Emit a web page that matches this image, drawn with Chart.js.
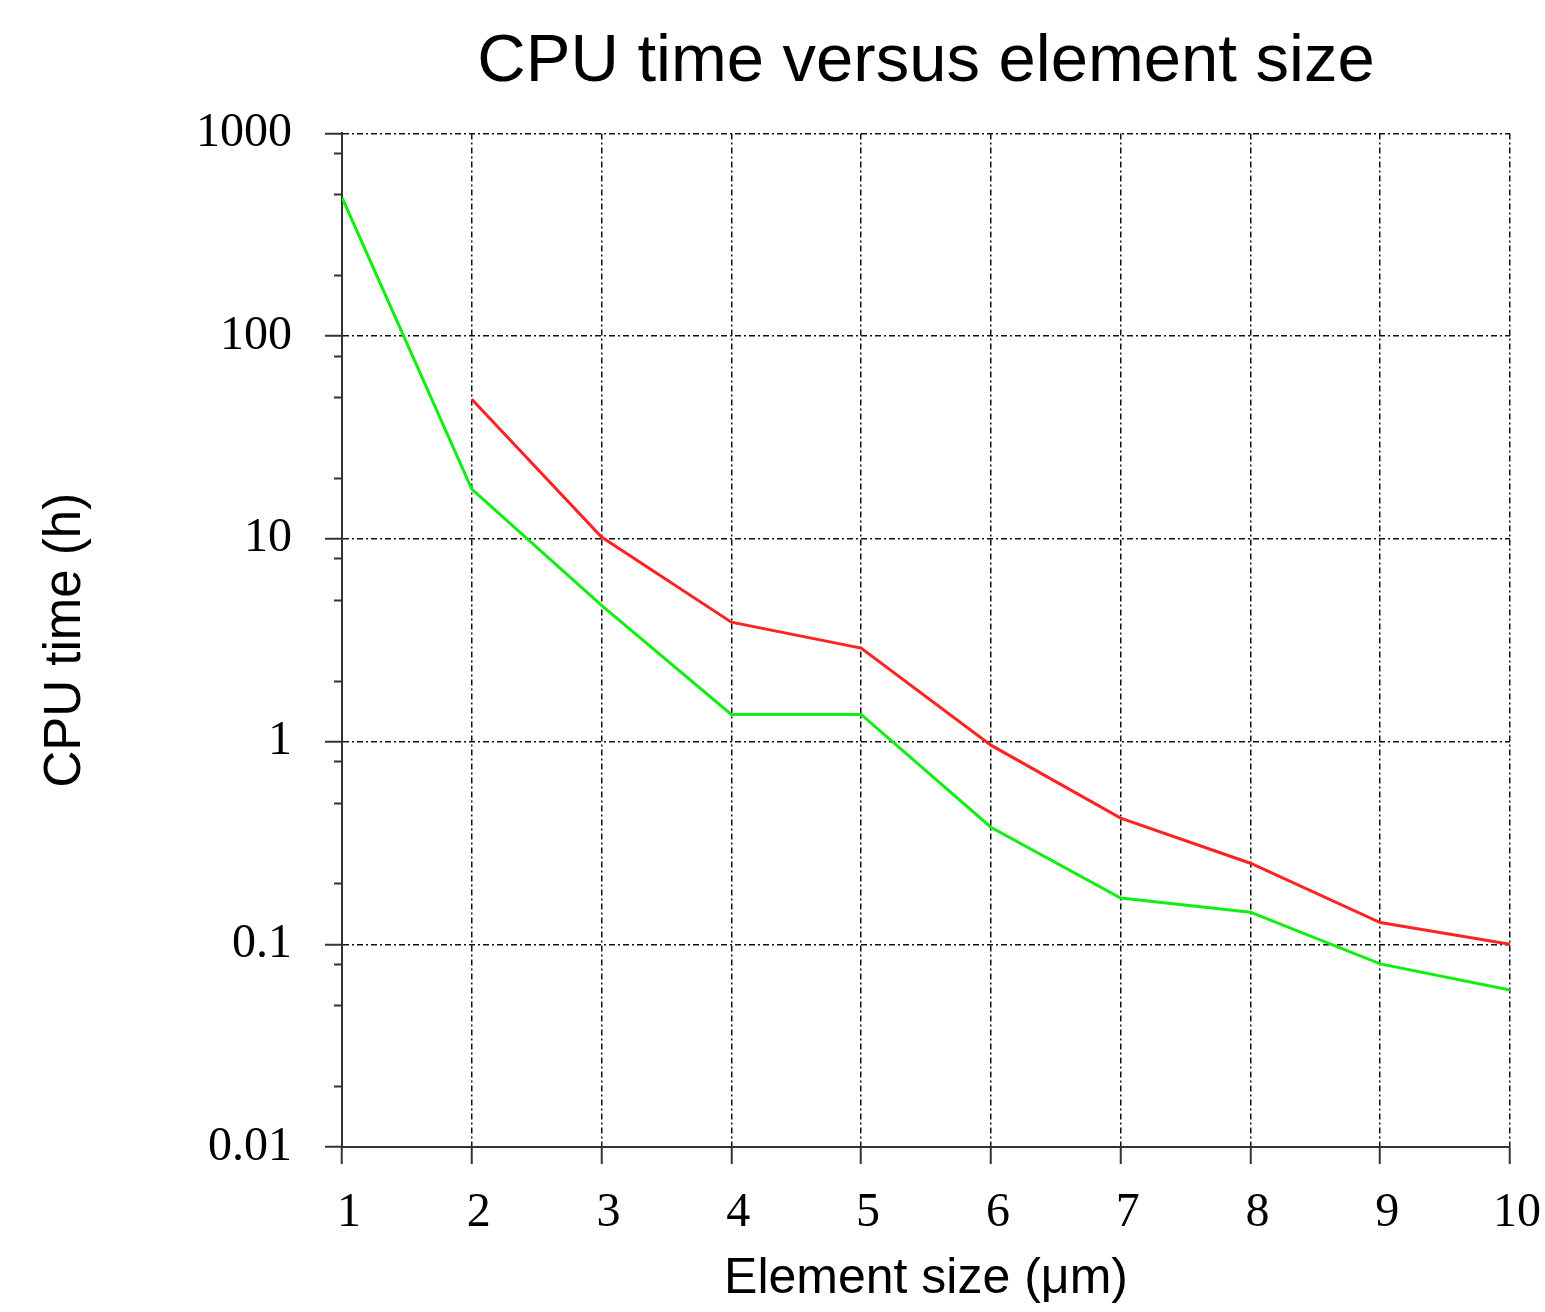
<!DOCTYPE html>
<html lang="en">
<head>
    <meta charset="UTF-8">
    <title>CPU time versus element size</title>
    <script src="https://cdn.jsdelivr.net/npm/chart.js@4.4.1/dist/chart.umd.min.js"></script>
    <style>
        body {
            margin: 0;
            background: #ffffff;
        }
        .chart-box {
            width: 1545px;
            height: 1312px;
            position: relative;
        }
    </style>
</head>
<body>
    <div class="chart-box">
        <canvas id="cpuChart"></canvas>
    </div>

    <script>
        // Data
        const elementSizes = [1, 2, 3, 4, 5, 6, 7, 8, 9, 10];
        const cpuTimeGreen = [483, 17.6, 4.7, 1.36, 1.36, 0.378, 0.169, 0.144, 0.08, 0.0594];
        const cpuTimeRed = [null, 48.8, 10.2, 3.88, 2.89, 0.96, 0.419, 0.251, 0.128, 0.1];
        const yTickValues = [0.01, 0.1, 1, 10, 100, 1000];
        const minorSteps = [2, 5, 8];

        const SERIF = "'Liberation Serif', 'DejaVu Serif', serif";
        const SANS = "'Liberation Sans', Arial, sans-serif";
        const GRID_DASH = [6, 3, 2, 3];

        function toPoints(values) {
            return elementSizes
                .map((x, i) => ({ x: x, y: values[i] }))
                .filter(p => p.y !== null);
        }

        // short ticks at 2, 5, 8 of each decade, outside the left axis
        const minorTicks = {
            id: 'minorTicks',
            afterDraw(chart) {
                const y = chart.scales.y;
                const ctx = chart.ctx;
                ctx.save();
                ctx.strokeStyle = '#333';
                ctx.lineWidth = 2;
                yTickValues.slice(0, -1).forEach(decade => {
                    minorSteps.forEach(m => {
                        const py = Math.round(y.getPixelForValue(decade * m)) + 0.5;
                        ctx.beginPath();
                        ctx.moveTo(y.right - 8, py);
                        ctx.lineTo(y.right, py);
                        ctx.stroke();
                    });
                });
                ctx.restore();
            }
        };

        new Chart(document.getElementById('cpuChart'), {
            type: 'line',
            data: {
                datasets: [
                    {
                        data: toPoints(cpuTimeGreen),
                        borderColor: '#11ee11',
                        borderWidth: 3,
                        pointRadius: 0,
                        tension: 0
                    },
                    {
                        data: toPoints(cpuTimeRed),
                        borderColor: '#ff2222',
                        borderWidth: 3,
                        pointRadius: 0,
                        tension: 0
                    }
                ]
            },
            options: {
                responsive: true,
                maintainAspectRatio: false,
                animation: false,
                layout: {
                    padding: { left: 0, right: 35, top: 0, bottom: 0 }
                },
                plugins: {
                    legend: { display: false },
                    tooltip: { enabled: false },
                    title: {
                        display: true,
                        text: 'CPU time versus element size',
                        fullSize: false,
                        color: '#000',
                        font: { family: SANS, size: 67, weight: 'normal' },
                        padding: { top: 22, bottom: 31 }
                    }
                },
                scales: {
                    x: {
                        type: 'linear',
                        min: 1,
                        max: 10,
                        afterFit(scale) {
                            scale.height = 165;
                            scale.paddingLeft = 0;
                            scale.paddingRight = 0;
                        },
                        ticks: {
                            stepSize: 1,
                            color: '#000',
                            padding: 21,
                            labelOffset: 7,
                            font: { family: SERIF, size: 48 }
                        },
                        grid: {
                            color: '#111',
                            lineWidth: 1.5,
                            tickLength: 17,
                            tickColor: '#333',
                            tickWidth: 2,
                            tickBorderDash: []
                        },
                        border: { display: true, color: '#333', width: 2, dash: GRID_DASH },
                        title: {
                            display: true,
                            text: 'Element size (μm)',
                            color: '#000',
                            font: { family: SANS, size: 50 },
                            padding: { top: 0, bottom: 3 }
                        }
                    },
                    y: {
                        type: 'logarithmic',
                        min: 0.01,
                        max: 1000,
                        afterFit(scale) { scale.width = 342; },
                        afterBuildTicks(scale) {
                            scale.ticks = yTickValues.map(v => ({ value: v }));
                        },
                        ticks: {
                            color: '#000',
                            padding: 33,
                            font: { family: SERIF, size: 48 },
                            callback: value => String(value)
                        },
                        grid: {
                            color: '#111',
                            lineWidth: 1.5,
                            tickLength: 17,
                            tickColor: '#333',
                            tickWidth: 2,
                            tickBorderDash: []
                        },
                        border: { display: true, color: '#333', width: 2, dash: GRID_DASH },
                        title: {
                            display: true,
                            text: 'CPU time (h)',
                            color: '#000',
                            font: { family: SANS, size: 51 },
                            padding: { top: 35, bottom: 0 }
                        }
                    }
                }
            },
            plugins: [minorTicks]
        });
    </script>
</body>
</html>
